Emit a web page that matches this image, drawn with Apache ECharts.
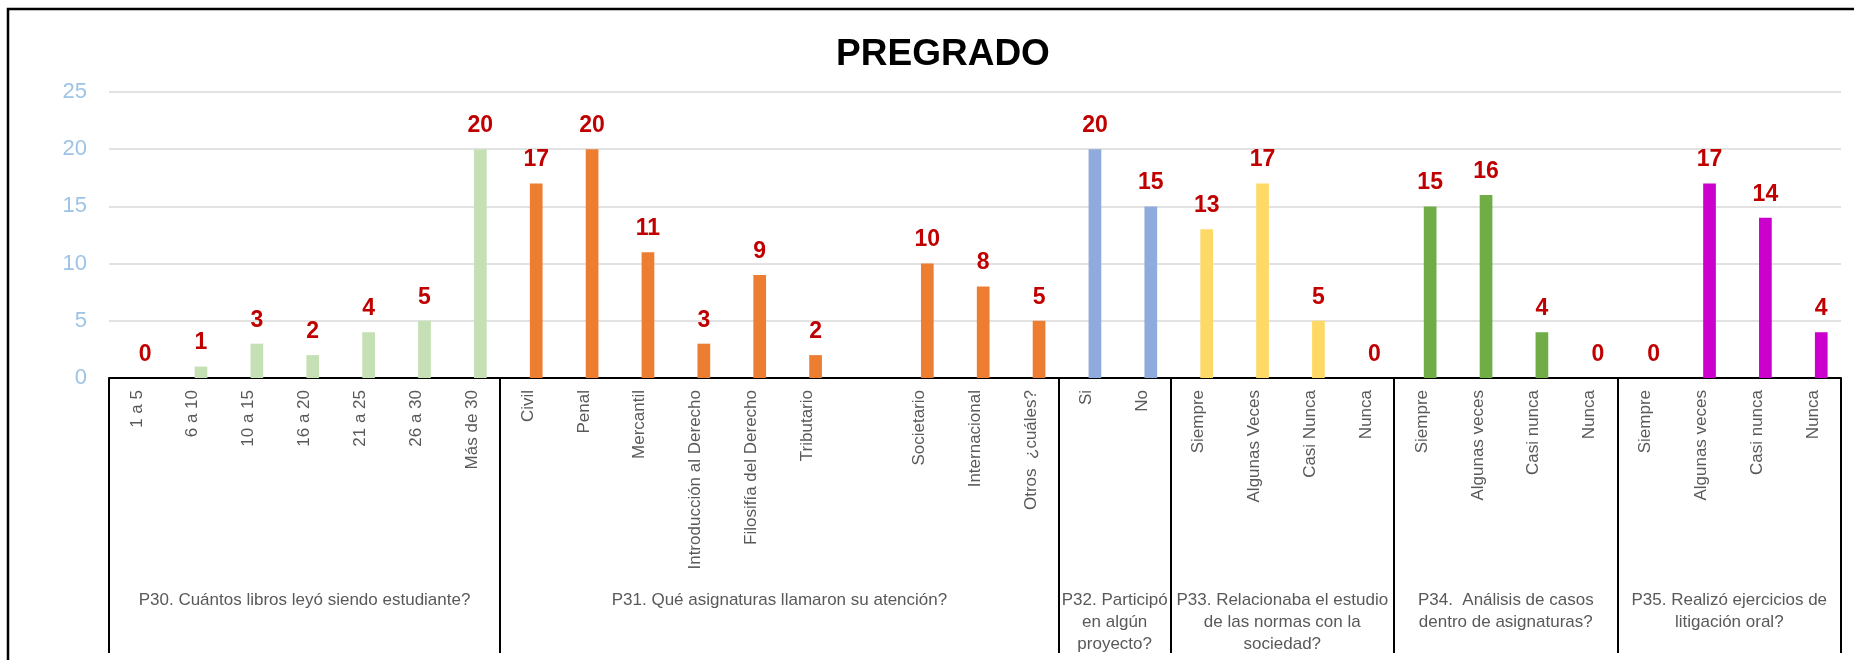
<!DOCTYPE html>
<html>
<head>
<meta charset="utf-8">
<script src="https://cdn.jsdelivr.net/npm/echarts@6/dist/echarts.min.js"></script>
<style>
html,body{margin:0;padding:0;background:#fff;}
#chart{width:1854px;height:660px;}
</style>
</head>
<body>
<div id="chart"></div>
<script>
const categories = ['1 a 5','6 a 10','10 a 15','16 a 20','21 a 25','26 a 30','Más de 30',
  'Civil','Penal','Mercantil','Introducción al Derecho','Filosifía del Derecho','Tributario','','Societario','Internacional','Otros  ¿cuáles?',
  'Si','No',
  'Siempre','Algunas Veces','Casi Nunca','Nunca',
  'Siempre','Algunas veces','Casi nunca','Nunca',
  'Siempre','Algunas veces','Casi nunca','Nunca'];
const values = [0,1,3,2,4,5,20,
  17,20,11,3,9,2,null,10,8,5,
  20,15,
  13,17,5,0,
  15,16,4,0,
  0,17,14,4];
const groupNames = ['P30. Cuántos libros leyó siendo estudiante?',
  'P31. Qué asignaturas llamaron su atención?',
  'P32. Participó\nen algún\nproyecto?',
  'P33. Relacionaba el estudio\nde las normas con la\nsociedad?',
  'P34.  Análisis de casos\ndentro de asignaturas?',
  'P35. Realizó ejercicios de\nlitigación oral?'];
const groupSizes = [7,10,2,4,4,4];
const groupColors = ['#C5E0B4','#ED7D31','#8FAADC','#FFD966','#70AD47','#CC00CC'];
const yTicks = [0,5,10,15,20,25];

// derived
const boundaries = [0];
groupSizes.forEach(s => boundaries.push(boundaries[boundaries.length-1] + s));
const centers = groupSizes.map((s,i) => boundaries[i] + s/2);
const total = boundaries[boundaries.length-1];
const barColors = [];
groupSizes.forEach((s,i) => { for (let k=0;k<s;k++) barColors.push(groupColors[i]); });

const chart = echarts.init(document.getElementById('chart'));
const FONT = "'Liberation Sans', Arial, sans-serif";
chart.setOption({
  animation: false,
  textStyle: { fontFamily: FONT },
  title: {
    text: 'PREGRADO', left: 938, top: 31, textAlign: 'center',
    textStyle: { fontSize: 37, fontWeight: 'bold', color: '#000', fontFamily: FONT }
  },
  grid: { left: 109, right: 13, top: 92, bottom: 282, containLabel: false },
  xAxis: [{
    type: 'category', data: categories, gridIndex: 0, position: 'bottom',
    axisLine: { show: true, lineStyle: { color: '#000', width: 2 } },
    axisTick: { show: false },
    axisLabel: { rotate: 90, interval: 0, fontSize: 17, color: '#595959', margin: 12, fontFamily: FONT },
    splitLine: { show: false }
  }, {
    type: 'value', min: 0, max: total, gridIndex: 0, position: 'bottom',
    axisLine: { show: false },
    splitLine: { show: false },
    axisTick: { show: true, customValues: boundaries, length: 275, lineStyle: { color: '#000', width: 2 } },
    axisLabel: {
      show: true, customValues: centers, margin: 211, fontSize: 17, lineHeight: 22, color: '#595959', align: 'center', fontFamily: FONT,
      formatter: v => { const i = centers.indexOf(v); return i >= 0 ? groupNames[i] : ''; }
    }
  }],
  yAxis: {
    type: 'value', min: yTicks[0], max: yTicks[yTicks.length-1], interval: 5,
    axisLine: { show: false }, axisTick: { show: false },
    axisLabel: { fontSize: 22, color: '#9DC3E6', margin: 22, fontFamily: FONT },
    splitLine: { lineStyle: { color: '#D9D9D9', width: 1.5 } }
  },
  series: [{
    type: 'bar', xAxisIndex: 0, silent: true,
    data: categories.map(() => '-'), barWidth: 12.7, barGap: '29%'
  }, {
    type: 'bar', xAxisIndex: 0, barWidth: 12.7, barGap: '29%',
    data: values.map((v,i) => v === null ? '-' : { value: v, itemStyle: { color: barColors[i] } }),
    label: { show: true, position: 'top', distance: 12, color: '#C00000', fontSize: 23, fontWeight: 'bold', fontFamily: FONT }
  }],
  graphic: [{
    type: 'rect', silent: true, z: 100,
    shape: { x: 8, y: 9, width: 1880, height: 720 },
    style: { fill: 'none', stroke: '#000', lineWidth: 2.5 }
  }]
});
</script>
</body>
</html>
